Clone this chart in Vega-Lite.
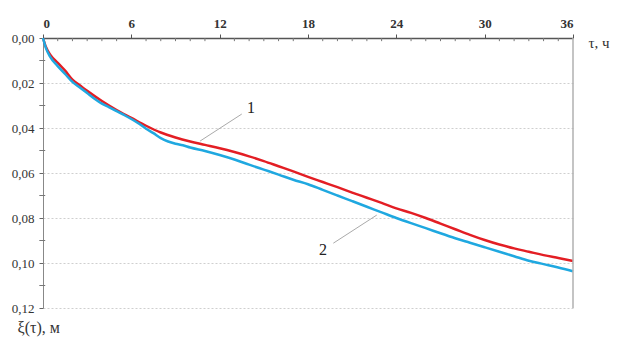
{
  "$schema": "https://vega.github.io/schema/vega-lite/v6.json",
  "autosize": "none",
  "width": 530,
  "height": 270,
  "padding": {"left": 43, "top": 38, "right": 44, "bottom": 36},
  "background": "white",
  "config": {"view": {"stroke": null}, "font": "Liberation Serif"},
  "datasets": {
    "curves": [
      {"t": 0, "v": 0, "s": "1"}, {"t": 0.2, "v": 0.004, "s": "1"}, {"t": 0.5, "v": 0.0075, "s": "1"}, {"t": 1, "v": 0.011, "s": "1"},
      {"t": 1.5, "v": 0.0145, "s": "1"}, {"t": 2, "v": 0.0185, "s": "1"}, {"t": 2.5, "v": 0.021, "s": "1"}, {"t": 3, "v": 0.0235, "s": "1"},
      {"t": 4, "v": 0.028, "s": "1"}, {"t": 5, "v": 0.032, "s": "1"}, {"t": 6, "v": 0.0355, "s": "1"}, {"t": 7, "v": 0.039, "s": "1"},
      {"t": 8, "v": 0.042, "s": "1"}, {"t": 9, "v": 0.0442, "s": "1"}, {"t": 10, "v": 0.046, "s": "1"}, {"t": 11, "v": 0.0475, "s": "1"},
      {"t": 12, "v": 0.049, "s": "1"}, {"t": 13, "v": 0.0507, "s": "1"}, {"t": 14, "v": 0.0526, "s": "1"}, {"t": 15, "v": 0.0547, "s": "1"},
      {"t": 16, "v": 0.057, "s": "1"}, {"t": 17, "v": 0.0593, "s": "1"}, {"t": 18, "v": 0.0617, "s": "1"}, {"t": 19, "v": 0.064, "s": "1"},
      {"t": 20, "v": 0.0663, "s": "1"}, {"t": 21, "v": 0.0687, "s": "1"}, {"t": 22, "v": 0.071, "s": "1"}, {"t": 23, "v": 0.0733, "s": "1"},
      {"t": 24, "v": 0.0757, "s": "1"}, {"t": 25, "v": 0.0777, "s": "1"}, {"t": 26, "v": 0.08, "s": "1"}, {"t": 27, "v": 0.0825, "s": "1"},
      {"t": 28, "v": 0.085, "s": "1"}, {"t": 29, "v": 0.0875, "s": "1"}, {"t": 30, "v": 0.0898, "s": "1"}, {"t": 31, "v": 0.0918, "s": "1"},
      {"t": 32, "v": 0.0935, "s": "1"}, {"t": 33, "v": 0.095, "s": "1"}, {"t": 34, "v": 0.0965, "s": "1"}, {"t": 35, "v": 0.0978, "s": "1"},
      {"t": 36, "v": 0.0991, "s": "1"},
      {"t": 0, "v": 0, "s": "2"}, {"t": 0.2, "v": 0.0045, "s": "2"}, {"t": 0.5, "v": 0.0085, "s": "2"}, {"t": 1, "v": 0.0125, "s": "2"},
      {"t": 1.5, "v": 0.016, "s": "2"}, {"t": 2, "v": 0.0195, "s": "2"}, {"t": 2.5, "v": 0.022, "s": "2"}, {"t": 3, "v": 0.0245, "s": "2"},
      {"t": 3.5, "v": 0.027, "s": "2"}, {"t": 4, "v": 0.0292, "s": "2"}, {"t": 4.5, "v": 0.0308, "s": "2"}, {"t": 5, "v": 0.0325, "s": "2"},
      {"t": 5.5, "v": 0.0342, "s": "2"}, {"t": 6, "v": 0.036, "s": "2"}, {"t": 6.5, "v": 0.038, "s": "2"}, {"t": 7, "v": 0.0403, "s": "2"},
      {"t": 7.5, "v": 0.0423, "s": "2"}, {"t": 8, "v": 0.0445, "s": "2"}, {"t": 8.5, "v": 0.046, "s": "2"}, {"t": 9, "v": 0.047, "s": "2"},
      {"t": 9.5, "v": 0.0477, "s": "2"}, {"t": 10, "v": 0.0487, "s": "2"}, {"t": 11, "v": 0.0502, "s": "2"}, {"t": 12, "v": 0.052, "s": "2"},
      {"t": 13, "v": 0.054, "s": "2"}, {"t": 14, "v": 0.0563, "s": "2"}, {"t": 15, "v": 0.0585, "s": "2"}, {"t": 16, "v": 0.0607, "s": "2"},
      {"t": 17, "v": 0.063, "s": "2"}, {"t": 18, "v": 0.065, "s": "2"}, {"t": 19, "v": 0.0675, "s": "2"}, {"t": 20, "v": 0.07, "s": "2"},
      {"t": 21, "v": 0.0725, "s": "2"}, {"t": 22, "v": 0.075, "s": "2"}, {"t": 23, "v": 0.0775, "s": "2"}, {"t": 24, "v": 0.08, "s": "2"},
      {"t": 25, "v": 0.0823, "s": "2"}, {"t": 26, "v": 0.0845, "s": "2"}, {"t": 27, "v": 0.0868, "s": "2"}, {"t": 28, "v": 0.089, "s": "2"},
      {"t": 29, "v": 0.091, "s": "2"}, {"t": 30, "v": 0.093, "s": "2"}, {"t": 31, "v": 0.095, "s": "2"}, {"t": 32, "v": 0.097, "s": "2"},
      {"t": 33, "v": 0.099, "s": "2"}, {"t": 34, "v": 0.1005, "s": "2"}, {"t": 35, "v": 0.102, "s": "2"}, {"t": 36, "v": 0.1037, "s": "2"}
    ],
    "leaders": [
      {"t": 10.67, "v": 0.0458, "k": "1"}, {"t": 13.5, "v": 0.0338, "k": "1"},
      {"t": 22.67, "v": 0.0787, "k": "2"}, {"t": 19.72, "v": 0.0912, "k": "2"}
    ],
    "labels": [
      {"t": 14.13, "v": 0.0311, "k": "1"},
      {"t": 19.02, "v": 0.0942, "k": "2"}
    ],
    "minorx": [
      {"t": 1}, {"t": 2}, {"t": 3}, {"t": 4}, {"t": 5}, {"t": 7}, {"t": 8}, {"t": 9}, {"t": 10}, {"t": 11},
      {"t": 13}, {"t": 14}, {"t": 15}, {"t": 16}, {"t": 17}, {"t": 19}, {"t": 20}, {"t": 21}, {"t": 22}, {"t": 23},
      {"t": 25}, {"t": 26}, {"t": 27}, {"t": 28}, {"t": 29}, {"t": 31}, {"t": 32}, {"t": 33}, {"t": 34}, {"t": 35}
    ],
    "minory": [
      {"v": 0.01}, {"v": 0.03}, {"v": 0.05}, {"v": 0.07}, {"v": 0.09}, {"v": 0.11}
    ]
  },
  "layer": [
    {
      "data": {"name": "curves"},
      "mark": {"type": "line", "strokeWidth": 2.5, "interpolate": "monotone"},
      "encoding": {
        "x": {
          "field": "t", "type": "quantitative",
          "scale": {"domain": [0, 36], "nice": false, "zero": false},
          "axis": {
            "orient": "top", "values": [0, 6, 12, 18, 24, 30, 36],
            "grid": false, "domainColor": "#555", "domainWidth": 1.5,
            "tickColor": "#555", "tickSize": 4, "labelPadding": 4,
            "labelFont": "Liberation Serif", "labelFontSize": 13, "labelFontWeight": "bold", "labelColor": "#333",
            "title": "τ, ч", "titleFont": "Liberation Serif", "titleFontSize": 15,
            "titleFontWeight": "normal", "titleColor": "#333",
            "titleX": 545, "titleY": 4, "titleAlign": "left", "titleBaseline": "middle", "titleAngle": 0
          }
        },
        "y": {
          "field": "v", "type": "quantitative",
          "scale": {"domain": [0, 0.12], "reverse": true, "nice": false},
          "axis": {
            "values": [0, 0.02, 0.04, 0.06, 0.08, 0.1, 0.12],
            "labelExpr": "replace(format(datum.value, '.2f'), '.', ',')",
            "grid": true, "gridColor": "#cfcfcf", "gridDash": [2, 2], "gridWidth": 1.2,
            "domainColor": "#888", "tickColor": "#666", "tickSize": 4, "labelPadding": 5,
            "labelFont": "Liberation Serif", "labelFontSize": 13, "labelColor": "#333",
            "title": "ξ(τ), м", "titleFont": "Liberation Serif", "titleFontSize": 16,
            "titleFontWeight": "normal", "titleColor": "#333", "titleAngle": 0,
            "titleX": -26, "titleY": 289, "titleAlign": "left", "titleBaseline": "middle"
          }
        },
        "color": {
          "field": "s", "type": "nominal",
          "scale": {"domain": ["1", "2"], "range": ["#e31e24", "#1fa8e0"]},
          "legend": null
        },
        "order": {"field": "t"}
      }
    },
    {
      "data": {"name": "minorx"},
      "mark": {"type": "rule", "color": "#777", "strokeWidth": 1},
      "encoding": {
        "x": {"field": "t", "type": "quantitative"},
        "y": {"datum": 0},
        "y2": {"datum": 0.0014}
      }
    },
    {
      "data": {"name": "minory"},
      "mark": {"type": "rule", "color": "#777", "strokeWidth": 1},
      "encoding": {
        "y": {"field": "v", "type": "quantitative"},
        "x": {"datum": -0.25},
        "x2": {"datum": 0.15}
      }
    },
    {
      "data": {"values": [{"a": 1}]},
      "mark": {"type": "rule", "color": "#b0b0b0", "strokeWidth": 1.5},
      "encoding": {
        "x": {"datum": 36},
        "y": {"datum": 0},
        "y2": {"datum": 0.12}
      }
    },
    {
      "data": {"name": "leaders"},
      "mark": {"type": "line", "color": "#aaa", "strokeWidth": 1},
      "encoding": {
        "x": {"field": "t", "type": "quantitative"},
        "y": {"field": "v", "type": "quantitative"},
        "detail": {"field": "k"}
      }
    },
    {
      "data": {"name": "labels"},
      "mark": {"type": "text", "font": "Liberation Serif", "fontSize": 16, "color": "#222", "align": "center", "baseline": "middle"},
      "encoding": {
        "x": {"field": "t", "type": "quantitative"},
        "y": {"field": "v", "type": "quantitative"},
        "text": {"field": "k"}
      }
    }
  ]
}
